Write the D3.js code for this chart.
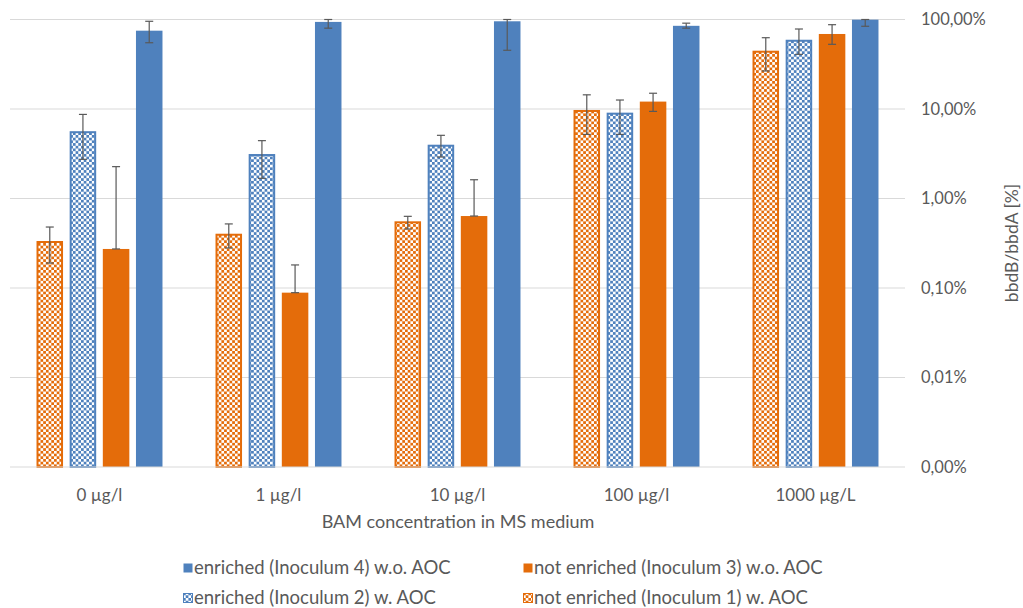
<!DOCTYPE html>
<html>
<head>
<meta charset="utf-8">
<script src="https://cdn.jsdelivr.net/npm/d3@7"></script>
<style>
  html, body { margin: 0; padding: 0; background: #fff; }
  svg { display: block; }
  text { font-family: Lato, "Open Sans", sans-serif; fill: #595959; }
</style>
</head>
<body>
<svg id="chart" width="1023" height="608"></svg>
<script>
// BAM concentrations in the medium
const categories = ["0 µg/l", "1 µg/l", "10 µg/l", "100 µg/l", "1000 µg/L"];

// series names, in bar order inside each group
const seriesNames = [
  "not enriched (Inoculum 1) w. AOC",
  "enriched (Inoculum 2) w. AOC",
  "not enriched (Inoculum 3) w.o. AOC",
  "enriched (Inoculum 4) w.o. AOC"
];

// bbdB/bbdA ratio in percent, per series
const inoc1Values = [0.335, 0.404, 0.556, 9.75, 44.8];
const inoc2Values = [5.65, 3.14, 3.99, 9.1, 59.4];
const inoc3Values = [0.273, 0.0887, 0.637, 12.1, 68.9];
const inoc4Values = [75, 94, 95.5, 85, 99.6];

// error bar ends (upper / lower), percent
const inoc1Upper = [0.48, 0.52, 0.632, 14.4, 62.6];
const inoc1Lower = [0.19, 0.28, 0.456, 5.2, 26.6];
const inoc2Upper = [8.7, 4.43, 5.08, 12.6, 78.3];
const inoc2Lower = [2.74, 1.68, 2.91, 5.2, 40.8];
const inoc3Upper = [2.27, 0.181, 1.62, 15.0, 87.5];
const inoc3Lower = [0.273, 0.0887, 0.637, 9.4, 52.8];
const inoc4Upper = [95.5, 100, 100, 91, 100];
const inoc4Lower = [55, 80, 45.3, 80, 84];

// y-axis ticks (percent)
const yTicks = [0.001, 0.01, 0.1, 1, 10, 100];

const blue = "#4F81BD";
const orange = "#E46C0A";

const series = [
  { name: seriesNames[0], values: inoc1Values, up: inoc1Upper, lo: inoc1Lower, color: orange, hatched: true },
  { name: seriesNames[1], values: inoc2Values, up: inoc2Upper, lo: inoc2Lower, color: blue, hatched: true },
  { name: seriesNames[2], values: inoc3Values, up: inoc3Upper, lo: inoc3Lower, color: orange, hatched: false },
  { name: seriesNames[3], values: inoc4Values, up: inoc4Upper, lo: inoc4Lower, color: blue, hatched: false }
];

const svg = d3.select("#chart");
const plot = { left: 10, right: 905, top: 19.5, bottom: 467 };

// checkerboard fills for the "w. AOC" series
const defs = svg.append("defs");
function checker(id, color) {
  const c = 2.7;
  const p = defs.append("pattern")
    .attr("id", id).attr("patternUnits", "userSpaceOnUse")
    .attr("width", c * 2).attr("height", c * 2);
  p.append("rect").attr("width", c * 2).attr("height", c * 2).attr("fill", "#fff");
  p.append("rect").attr("width", c).attr("height", c).attr("fill", color);
  p.append("rect").attr("x", c).attr("y", c).attr("width", c).attr("height", c).attr("fill", color);
}
checker("chk-orange", orange);
checker("chk-blue", blue);
const fillFor = s => s.hatched ? (s.color === orange ? "url(#chk-orange)" : "url(#chk-blue)") : s.color;

const x = d3.scaleBand().domain(categories).range([plot.left, plot.right]).paddingInner(0).paddingOuter(0);
// bars: gap width 200 %, overlap -25 %
const barW = x.bandwidth() / 6.75;
const xs = d3.scaleBand().domain(d3.range(series.length))
  .range([barW, barW + 4.75 * barW]).paddingInner(0.25 / 1.25).paddingOuter(0);

const y = d3.scaleLog().domain([0.001, 100]).range([plot.bottom, plot.top]).clamp(true);

// gridlines
svg.append("g").selectAll("line").data(yTicks.slice(1)).join("line")
  .attr("x1", plot.left).attr("x2", plot.right)
  .attr("y1", d => y(d)).attr("y2", d => y(d))
  .attr("stroke", "#D9D9D9").attr("stroke-width", 1);

// right-hand axis labels
const fmt = d => d3.format(".2f")(d).replace(".", ",") + "%";
const yAxis = d3.axisRight(y).tickValues(yTicks).tickFormat(fmt).tickSize(0).tickPadding(16);
const ya = svg.append("g").attr("transform", `translate(${plot.right},0)`).call(yAxis);
ya.select(".domain").remove();
ya.selectAll("text").attr("font-size", 16.5).attr("fill", "#595959")
  .style("font-family", 'Lato, sans-serif');

// bars
const groups = svg.append("g").selectAll("g").data(series).join("g");
groups.each(function (s, si) {
  const g = d3.select(this);
  categories.forEach((c, ci) => {
    const x0 = x(c) + xs(si);
    const w = xs.bandwidth();
    const top = y(s.values[ci]);
    if (s.hatched) {
      g.append("rect").attr("x", x0 + 1).attr("y", top + 1)
        .attr("width", w - 2).attr("height", plot.bottom - top - 1)
        .attr("fill", fillFor(s)).attr("stroke", s.color).attr("stroke-width", 2);
    } else {
      g.append("rect").attr("x", x0).attr("y", top)
        .attr("width", w).attr("height", plot.bottom - top)
        .attr("fill", s.color);
    }
  });
});

// baseline
svg.append("line").attr("x1", plot.left).attr("x2", plot.right)
  .attr("y1", plot.bottom).attr("y2", plot.bottom)
  .attr("stroke", "#D9D9D9").attr("stroke-width", 1);

// error bars
const eb = svg.append("g").attr("stroke", "#595959").attr("stroke-width", 1.2);
series.forEach((s, si) => {
  categories.forEach((c, ci) => {
    const cx = x(c) + xs(si) + xs.bandwidth() / 2;
    const yu = y(s.up[ci]), yl = y(s.lo[ci]);
    eb.append("line").attr("x1", cx).attr("x2", cx).attr("y1", yu).attr("y2", yl);
    [yu, yl].forEach(yy => {
      eb.append("line").attr("x1", cx - 4).attr("x2", cx + 4).attr("y1", yy).attr("y2", yy);
    });
  });
});

// category labels
svg.append("g").selectAll("text").data(categories).join("text")
  .attr("x", d => x(d) + x.bandwidth() / 2).attr("y", 501)
  .attr("text-anchor", "middle").attr("font-size", 17)
  .text(d => d);

// axis titles
svg.append("text").attr("x", 458).attr("y", 528).attr("text-anchor", "middle")
  .attr("font-size", 18).text("BAM concentration in MS medium");
svg.append("text").attr("transform", "translate(1018,243) rotate(-90)")
  .attr("text-anchor", "middle").attr("font-size", 17.5).text("bbdB/bbdA [%]");

// legend
const legendItems = [
  { s: series[3], x: 183, y: 568 },
  { s: series[2], x: 523, y: 568 },
  { s: series[1], x: 183, y: 598 },
  { s: series[0], x: 523, y: 598 }
];
const lg = svg.append("g").selectAll("g").data(legendItems).join("g")
  .attr("transform", d => `translate(${d.x},${d.y})`);
lg.append("rect").attr("x", 0.5).attr("y", -4.5).attr("width", 9).attr("height", 9)
  .attr("fill", d => fillFor(d.s))
  .attr("stroke", d => d.s.hatched ? d.s.color : "none").attr("stroke-width", 1);
lg.append("text").attr("x", 11).attr("y", 5.5).attr("font-size", 18.5)
  .text(d => d.s.name);
</script>
</body>
</html>
